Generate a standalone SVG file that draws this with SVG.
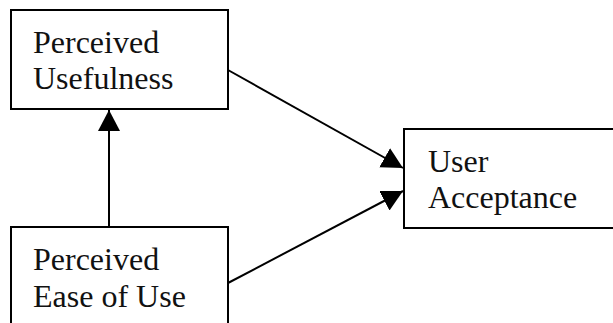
<svg xmlns="http://www.w3.org/2000/svg" width="613" height="323" viewBox="0 0 613 323">
  <style>
    .box { fill: #fff; stroke: #000; stroke-width: 2; }
    .label { font-family: "Liberation Serif", "Times New Roman", serif; font-size: 32px; fill: #111; }
    .edge { stroke: #000; stroke-width: 2; fill: none; marker-end: url(#head); }
  </style>
  <defs>
    <marker id="head" markerUnits="userSpaceOnUse" markerWidth="24" markerHeight="24" refX="21" refY="11" orient="auto">
      <path d="M0,0 L21,11 L0,22 Z" fill="#000"/>
    </marker>
  </defs>
  <rect width="613" height="323" fill="#fff"/>

  <g id="perceived-usefulness">
    <rect class="box" x="11" y="10" width="217" height="99"/>
    <text class="label" x="33" y="53">Perceived</text>
    <text class="label" x="33" y="89">Usefulness</text>
  </g>

  <g id="perceived-ease-of-use">
    <rect class="box" x="11" y="227" width="217" height="110"/>
    <text class="label" x="33" y="270">Perceived</text>
    <text class="label" x="33" y="307">Ease of Use</text>
  </g>

  <g id="user-acceptance">
    <rect class="box" x="404" y="129" width="220" height="99"/>
    <text class="label" x="428" y="172">User</text>
    <text class="label" x="428" y="208">Acceptance</text>
  </g>

  <g id="connectors">
    <line class="edge" x1="109" y1="227" x2="109" y2="110"/>
    <line class="edge" x1="228" y1="70" x2="403" y2="168"/>
    <line class="edge" x1="228" y1="283" x2="403" y2="191"/>
  </g>
</svg>
